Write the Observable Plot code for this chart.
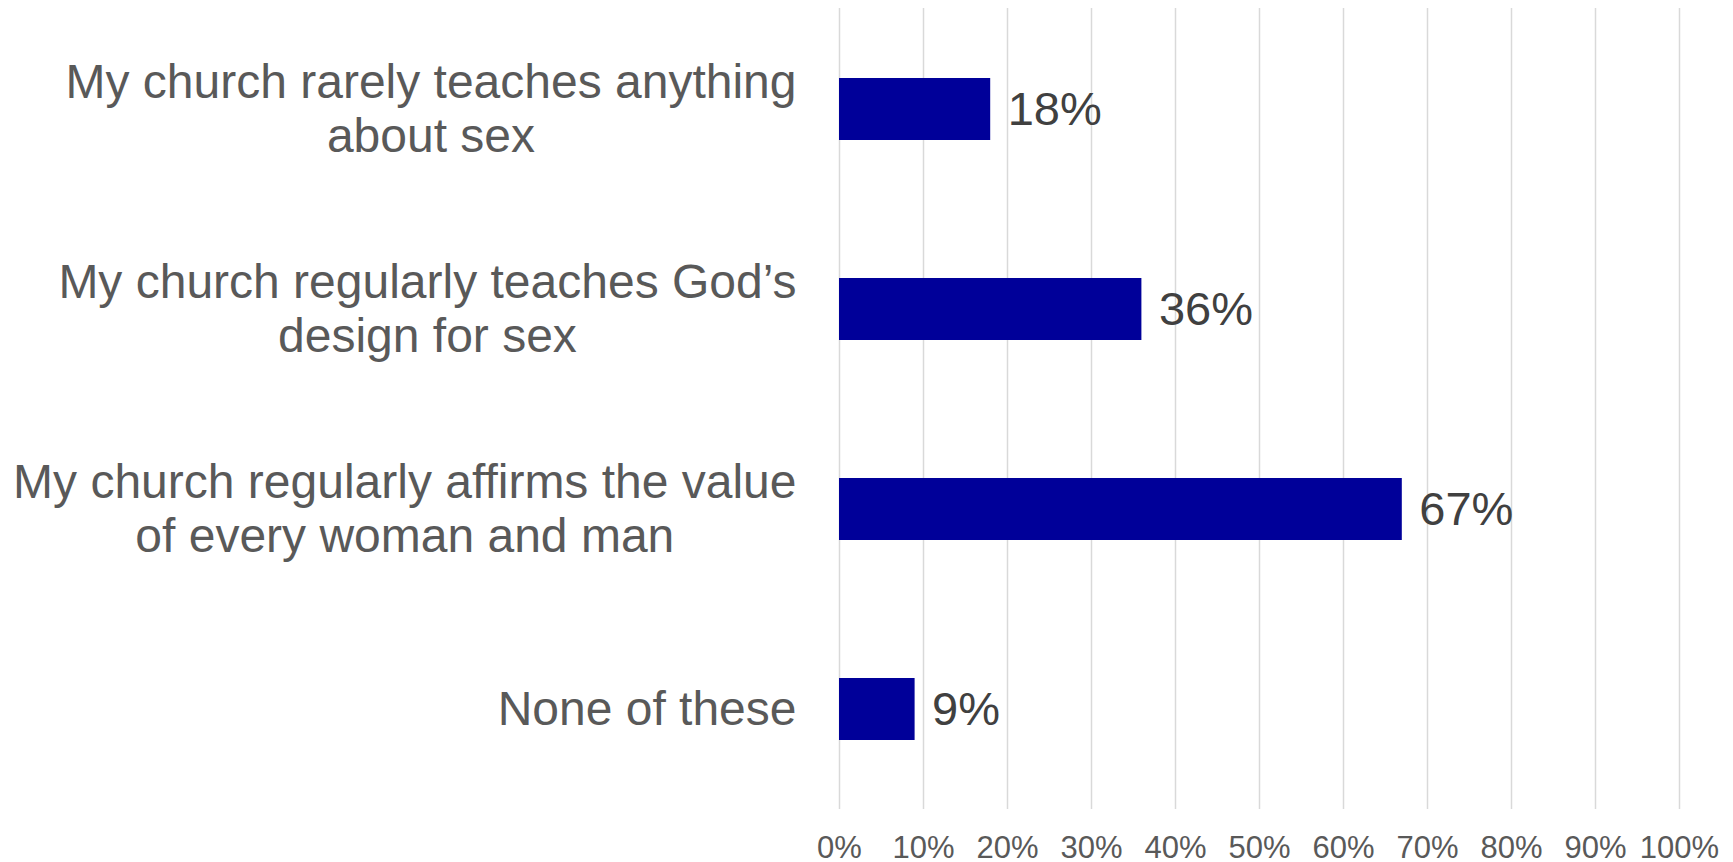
<!DOCTYPE html>
<html>
<head>
<meta charset="utf-8">
<script src="https://cdn.jsdelivr.net/npm/d3@7"></script>
<script src="https://cdn.jsdelivr.net/npm/@observablehq/plot@0.6"></script>
<style>
  html, body { margin: 0; padding: 0; background: #ffffff; }
  #chart svg { display: block; }
</style>
</head>
<body>
<div id="chart"></div>
<script>
const categories = [
  "My church rarely teaches anything\nabout sex",
  "My church regularly teaches God’s\ndesign for sex",
  "My church regularly affirms the value\nof every woman and man",
  "None of these"
];
const values = [18, 36, 67, 9];
const xTicks = [0, 10, 20, 30, 40, 50, 60, 70, 80, 90, 100];

const data = categories.map((c, i) => ({category: c, value: values[i]}));

const FONT = "'Liberation Sans', Arial, Helvetica, sans-serif";
const catFontSize = 48;
const ctx = document.createElement("canvas").getContext("2d");
ctx.font = `${catFontSize}px ${FONT}`;
function blockWidth(label) {
  return d3.max(label.split("\n"), s => ctx.measureText(s).width);
}

const labelGap = 43;

const chart = Plot.plot({
  width: 1733,
  height: 862,
  marginTop: 8,
  marginBottom: 53,
  marginLeft: 839,
  marginRight: 54,
  style: {fontFamily: FONT, background: "#ffffff"},
  x: {domain: [0, 100]},
  y: {domain: categories, paddingInner: 0.69, paddingOuter: 0.345, axis: null},
  marks: [
    Plot.gridX(xTicks, {stroke: "#d9d9d9", strokeOpacity: 1, strokeWidth: 1.5}),
    Plot.barX(data, {x: "value", y: "category", fill: "#000099"}),
    Plot.text(data, {
      x: "value", y: "category", text: d => d.value + "%",
      dx: 17, textAnchor: "start", fontSize: 47, fill: "#404040"
    }),
    ...categories.map(c => Plot.text([c], {
      x: () => 0, y: d => d, text: d => d,
      textAnchor: "middle", dx: -(labelGap + blockWidth(c) / 2), dy: -2,
      fontSize: catFontSize, lineHeight: 1.12, fill: "#595959"
    })),
    Plot.axisX({
      ticks: xTicks, tickSize: 0, tickPadding: 26,
      tickFormat: d => d + "%", fontSize: 31, fill: "#595959", label: null
    })
  ]
});
document.getElementById("chart").append(chart);
</script>
</body>
</html>
